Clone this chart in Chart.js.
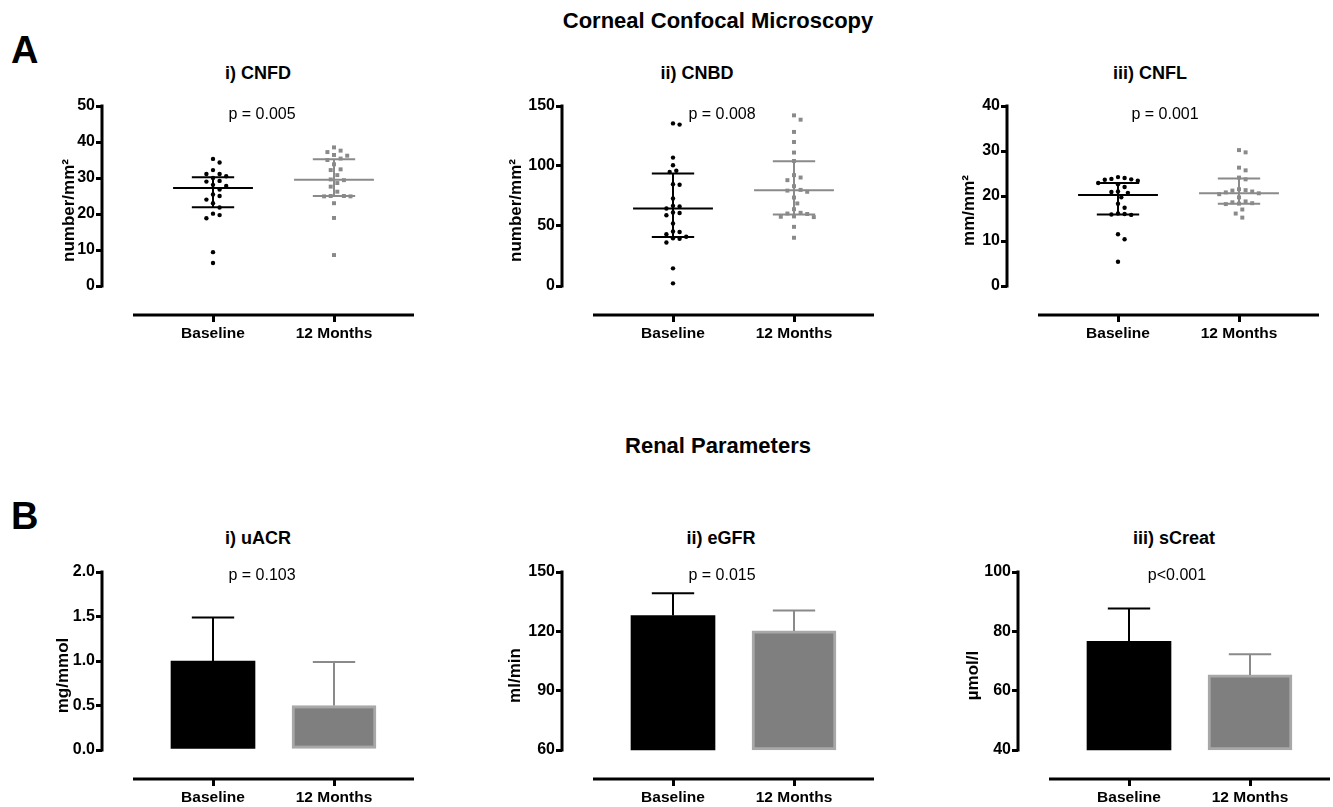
<!DOCTYPE html>
<html>
<head>
<meta charset="utf-8">
<script src="https://cdn.jsdelivr.net/npm/chart.js@4.4.0/dist/chart.umd.min.js"></script>
<style>
  body { margin: 0; background: #fff; width: 1333px; height: 807px; position: relative; overflow: hidden;
         font-family: 'Liberation Sans', Arial, sans-serif; color: #000; }
  canvas { position: absolute; }
  .txt { position: absolute; transform: translate(-50%, -50%); white-space: nowrap; }
  .head { font-weight: bold; font-size: 22px; }
  .ptitle { font-weight: bold; font-size: 18px; }
  .pval { font-size: 16px; }
  .letter { position: absolute; font-weight: bold; font-size: 38px; line-height: 1; }
</style>
</head>
<body>
<div class="txt head" style="left:718px; top:21px">Corneal Confocal Microscopy</div>
<div class="txt head" style="left:718px; top:446px">Renal Parameters</div>
<div class="letter" style="left:11px; top:31px">A</div>
<div class="letter" style="left:11px; top:497px">B</div>

<script>
const groups = ['Baseline', '12 Months'];

// A) corneal confocal microscopy - individual values
const cnfdBaseline = [35.3, 34.3, 32.2, 31.1, 31.1, 30.5, 30.0, 29.2, 29.0, 28.1, 27.8, 26.8, 25.4, 25.0, 24.0, 23.0, 21.8, 20.1, 19.7, 18.8, 9.4, 6.4];
const cnfd12m = [38.5, 37.6, 37.2, 36.4, 36.2, 35.4, 35.0, 33.8, 32.4, 32.2, 30.8, 29.6, 29.4, 28.6, 27.6, 26.2, 25.0, 25.0, 24.9, 24.9, 23.0, 18.9, 8.6];
const cnfdMedian = [27.2, 29.5];
const cnfdQ1 = [21.9, 25.0];
const cnfdQ3 = [30.2, 35.2];
const cnfdTicks = ['0', '10', '20', '30', '40', '50'];

const cnbdBaseline = [135.5, 134.5, 107, 100.6, 96, 95, 84.8, 84.4, 72.9, 66.8, 66.2, 64.6, 61.2, 60.8, 59, 52.1, 45.4, 45, 43.2, 41, 39.8, 39.4, 36.3, 14.7, 2.2];
const cnbd12m = [142.2, 138.6, 128.4, 120, 111.2, 104.2, 92.4, 90.4, 88.2, 83.2, 80.1, 79.5, 78.5, 73.7, 68.8, 64, 61, 60.4, 60, 58, 57.7, 57.4, 49.3, 40.2];
const cnbdMedian = [64.6, 79.8];
const cnbdQ1 = [40.8, 59.6];
const cnbdQ3 = [93.7, 104];
const cnbdTicks = ['0', '50', '100', '150'];

const cnflBaseline = [24.2, 24.0, 23.8, 23.7, 23.6, 23.4, 22.9, 22.6, 22.0, 21.0, 20.9, 20.7, 19.7, 18.3, 17.4, 16.1, 16.0, 15.9, 15.8, 11.5, 10.4, 5.4];
const cnfl12m = [30.2, 29.7, 26.3, 25.7, 24.1, 23.7, 21.5, 21.3, 21.2, 21.0, 20.8, 20.6, 20.4, 19.7, 18.8, 18.6, 18.4, 18.3, 18.2, 17.0, 16.1, 15.2];
const cnflMedian = [20.2, 20.6];
const cnflQ1 = [15.9, 18.3];
const cnflQ3 = [22.9, 23.9];
const cnflTicks = ['0', '10', '20', '30', '40'];

// B) renal parameters - mean and SD
const uacrMean = [1.0, 0.5];
const uacrSD = [0.49, 0.49];
const uacrTicks = ['0.0', '0.5', '1.0', '1.5', '2.0'];

const egfrMean = [128, 120.2];
const egfrSD = [11.2, 10.3];
const egfrTicks = ['60', '90', '120', '150'];

const screatMean = [76.6, 65.3];
const screatSD = [11.1, 7.0];
const screatTicks = ['40', '60', '80', '100'];

// layout (GraphPad style offset axes)
const FONT = "'Liberation Sans', Arial, sans-serif";
const GAP_PX = 29;      // space between lowest y tick and x axis line
const CAT_PX = 121;     // distance between the two groups
const FIRST_PX = 111;   // y axis to first group
const RIGHT_PX = 312;   // y axis to end of x axis
const PAD_TOP = 12;
const XAXIS_H = 30;
const GREY = '#8a8a8a';

const axisLines = {
    id: 'axisLines',
    afterDraw(chart) {
        const { ctx, chartArea, scales: { x, y } } = chart;
        const t = y.ticks;
        ctx.save();
        ctx.strokeStyle = '#000';
        ctx.lineWidth = 3;
        ctx.beginPath();
        ctx.moveTo(chartArea.left, y.getPixelForValue(t[t.length - 1].value) - 1.5);
        ctx.lineTo(chartArea.left, y.getPixelForValue(t[0].value) + 1.5);
        ctx.moveTo(x.getPixelForValue(1 - x.max), chartArea.bottom);
        ctx.lineTo(chartArea.right, chartArea.bottom);
        ctx.stroke();
        ctx.restore();
    }
};

function addText(cls, text, left, top) {
    const d = document.createElement('div');
    d.className = 'txt ' + cls;
    d.textContent = text;
    d.style.left = left + 'px';
    d.style.top = top + 'px';
    document.body.appendChild(d);
}

function makeCanvas(p, topPx, bottomPx) {
    const w = p.titleGap + 13;
    const c = document.createElement('canvas');
    c.width = w + RIGHT_PX + 10;
    c.height = PAD_TOP + (bottomPx - topPx) + XAXIS_H;
    c.style.left = (p.axisX - w) + 'px';
    c.style.top = (topPx - PAD_TOP) + 'px';
    document.body.appendChild(c);
    return c;
}

function options(p, axisPx) {
    const vals = p.ticks.map(Number);
    const lo = vals[0], hi = vals[vals.length - 1];
    return {
        responsive: false,
        animation: false,
        layout: { padding: { top: PAD_TOP, right: 10, left: 0, bottom: 0 } },
        plugins: { legend: { display: false }, tooltip: { enabled: false } },
        scales: {
            x: {
                type: 'linear',
                offset: false,
                min: -FIRST_PX / CAT_PX,
                max: (RIGHT_PX - FIRST_PX) / CAT_PX,
                afterBuildTicks: s => { s.ticks = [{ value: 0 }, { value: 1 }]; },
                afterFit: s => { s.height = XAXIS_H; },
                ticks: { callback: v => groups[v], color: '#000', font: { family: FONT, size: 15.5, weight: 'bold' }, padding: 2, maxRotation: 0, autoSkip: false },
                grid: { offset: false, drawOnChartArea: false, color: '#000', lineWidth: 3, tickLength: 7 },
                border: { display: false }
            },
            y: {
                min: lo - (hi - lo) * GAP_PX / axisPx,
                max: hi,
                afterBuildTicks: s => { s.ticks = vals.map(v => ({ value: v })); },
                afterFit: s => { s.width = p.titleGap + 13; },
                ticks: { callback: (v, i) => p.ticks[i], color: '#000', font: { family: FONT, size: 16, weight: 'bold' }, padding: 1 },
                grid: { drawOnChartArea: false, color: '#000', lineWidth: 3, tickLength: 6 },
                border: { display: false },
                title: { display: true, text: p.unit, color: '#000', font: { family: FONT, size: 17, weight: 'bold' } }
            }
        }
    };
}

const seg = (x1, y1, x2, y2, color) => ({
    type: 'line', data: [{ x: x1, y: y1 }, { x: x2, y: y2 }],
    borderColor: color, borderWidth: 2, pointRadius: 0, fill: false, order: 0
});

// spread the dots sideways so they do not overlap (simple beeswarm)
function swarm(values, slot, pxPerUnit) {
    const placed = [];
    return values.slice().sort((a, b) => b - a).map(v => {
        const ypx = v * pxPerUnit;
        for (let k = 0; k < 40; k++) {
            for (const c of (k === 0 ? [0] : [k, -k])) {
                const xpx = c * 3.3;
                if (placed.every(q => Math.hypot(q.x - xpx, q.y - ypx) >= 6.2)) {
                    placed.push({ x: xpx, y: ypx });
                    return { x: slot + xpx / CAT_PX, y: v };
                }
            }
        }
        return { x: slot, y: v };
    });
}

const dotPanels = [
    { title: 'i) CNFD', p: 'p = 0.005', unit: 'number/mm²', base: cnfdBaseline, post: cnfd12m, med: cnfdMedian, q1: cnfdQ1, q3: cnfdQ3, ticks: cnfdTicks, axisX: 102, titleGap: 34, tx: 258, px: 262 },
    { title: 'ii) CNBD', p: 'p = 0.008', unit: 'number/mm²', base: cnbdBaseline, post: cnbd12m, med: cnbdMedian, q1: cnbdQ1, q3: cnbdQ3, ticks: cnbdTicks, axisX: 562, titleGap: 47, tx: 697, px: 722 },
    { title: 'iii) CNFL', p: 'p = 0.001', unit: 'mm/mm²', base: cnflBaseline, post: cnfl12m, med: cnflMedian, q1: cnflQ1, q3: cnflQ3, ticks: cnflTicks, axisX: 1007, titleGap: 39, tx: 1150, px: 1165 }
];

dotPanels.forEach(p => {
    const top = 106, bottom = 315, axisPx = 180;
    const vals = p.ticks.map(Number);
    const ppu = axisPx / (vals[vals.length - 1] - vals[0]);
    const ctx = makeCanvas(p, top, bottom);
    const lines = [];
    [0, 1].forEach(i => {
        const col = i === 0 ? '#000' : GREY;
        lines.push(seg(i - 0.33, p.med[i], i + 0.33, p.med[i], col));
        lines.push(seg(i - 0.175, p.q1[i], i + 0.175, p.q1[i], col));
        lines.push(seg(i - 0.175, p.q3[i], i + 0.175, p.q3[i], col));
        lines.push(seg(i, p.q1[i], i, p.q3[i], col));
    });
    new Chart(ctx, {
        type: 'scatter',
        data: {
            datasets: [
                ...lines,
                { data: swarm(p.base, 0, ppu), pointStyle: 'circle', pointRadius: 2.2, backgroundColor: '#000', borderWidth: 0, order: 1 },
                { data: swarm(p.post, 1, ppu), pointStyle: 'rect', pointRadius: 2.8, backgroundColor: GREY, borderWidth: 0, order: 1 }
            ]
        },
        options: options(p, axisPx),
        plugins: [axisLines]
    });
    addText('ptitle', p.title, p.tx, 73);
    addText('pval', p.p, p.px, 114);
});

const barPanels = [
    { title: 'i) uACR', p: 'p = 0.103', unit: 'mg/mmol', mean: uacrMean, sd: uacrSD, ticks: uacrTicks, axisX: 102, titleGap: 40, tx: 258, px: 262 },
    { title: 'ii) eGFR', p: 'p = 0.015', unit: 'ml/min', mean: egfrMean, sd: egfrSD, ticks: egfrTicks, axisX: 562, titleGap: 48, tx: 721, px: 722 },
    { title: 'iii) sCreat', p: 'p<0.001', unit: 'µmol/l', mean: screatMean, sd: screatSD, ticks: screatTicks, axisX: 1018, titleGap: 46, tx: 1174, px: 1177 }
];

barPanels.forEach(p => {
    const top = 572, bottom = 779, axisPx = 178;
    const lo = Number(p.ticks[0]);
    const ctx = makeCanvas(p, top, bottom);
    const errs = [];
    [0, 1].forEach(i => {
        const col = i === 0 ? '#000' : GREY;
        const t = p.mean[i] + p.sd[i];
        errs.push(seg(i, p.mean[i], i, t, col));
        errs.push(seg(i - 0.175, t, i + 0.175, t, col));
    });
    new Chart(ctx, {
        type: 'bar',
        data: {
            datasets: [
                ...errs,
                {
                    type: 'bar',
                    data: p.mean.map((m, i) => ({ x: i, y: [lo, m] })),
                    backgroundColor: ['#000', '#7f7f7f'],
                    borderColor: ['#000', '#a8a8a8'],
                    borderWidth: [0, 3],
                    borderSkipped: false,
                    barThickness: 84,
                    order: 1
                }
            ]
        },
        options: options(p, axisPx),
        plugins: [axisLines]
    });
    addText('ptitle', p.title, p.tx, 538);
    addText('pval', p.p, p.px, 575);
});
</script>
</body>
</html>
